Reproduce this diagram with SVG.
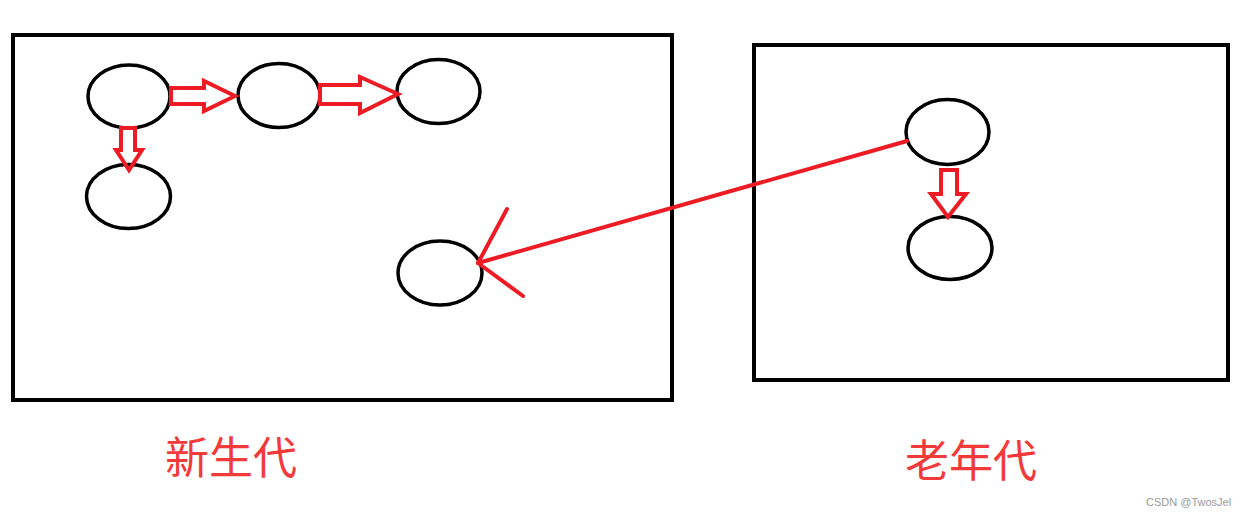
<svg xmlns="http://www.w3.org/2000/svg" width="1254" height="517" viewBox="0 0 1254 517">
<style>
.box{fill:none;stroke:#000;stroke-width:4}
.node{fill:none;stroke:#000;stroke-width:3.5}
.blk{fill:none;stroke:#ed1c24;stroke-width:4;stroke-linejoin:miter}
.ln{fill:none;stroke:#ed1c24;stroke-width:4;stroke-linecap:round}
.lbl{font-family:"Noto Sans CJK SC",sans-serif;font-size:44px;fill:#f23a3a}
.wm{font-family:"Liberation Sans",Arial,sans-serif;font-size:11px;fill:#999}
</style>
<rect width="1254" height="517" fill="#fff"/>
<g id="young-gen">
<rect class="box" x="13" y="35" width="659" height="365"/>
<text class="lbl" x="165" y="474">新生代</text>
</g>
<g id="old-gen">
<rect class="box" x="754" y="45" width="474" height="335"/>
<text class="lbl" x="905" y="477">老年代</text>
</g>
<g id="n1"><ellipse class="node" cx="129" cy="96.5" rx="41" ry="31.5"/></g>
<g id="n2"><ellipse class="node" cx="279" cy="95.5" rx="41" ry="32"/></g>
<g id="n3"><ellipse class="node" cx="438.5" cy="91.5" rx="41.5" ry="32"/></g>
<g id="n4"><ellipse class="node" cx="128.5" cy="196.5" rx="42" ry="32"/></g>
<g id="n5"><ellipse class="node" cx="440" cy="273" rx="42" ry="32"/></g>
<g id="n6"><ellipse class="node" cx="947.5" cy="132" rx="41.5" ry="32.5"/></g>
<g id="n7"><ellipse class="node" cx="950" cy="248" rx="42" ry="31.5"/></g>
<g id="connectors">
<polygon class="blk" points="171,88 204,88 204,81 235,96 204,111 204,104 171,104"/>
<polygon class="blk" points="320,85 360,85 360,77 398,94 360,113 360,104 320,104"/>
<polygon class="blk" points="121,128 135,128 135,150 142,150 129,170 116,150 121,150"/>
<polygon class="blk" points="941,170 957,170 957,194 966,194 948,217 931,194 941,194"/>
<line class="ln" x1="907" y1="141" x2="478" y2="263"/>
<line class="ln" x1="478" y1="263" x2="507" y2="209"/>
<line class="ln" x1="478" y1="263" x2="523" y2="296"/>
</g>
<text class="wm" x="1146" y="506">CSDN @TwosJel</text>
</svg>
